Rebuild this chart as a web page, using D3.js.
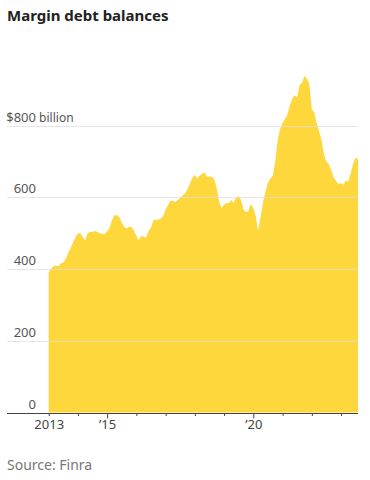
<!DOCTYPE html>
<html>
<head>
<meta charset="utf-8">
<script src="https://cdn.jsdelivr.net/npm/d3@7"></script>
<style>
  body { margin: 0; background: #fff; }
  svg { display: block; }
  text { font-family: "Noto Sans", sans-serif; }
</style>
</head>
<body>
<svg id="chart"></svg>
<script>
// monthly margin debt, billions of dollars, from Jan 2013
var startMonth = "2013-01";
var debtValues = [
  392, 401, 408, 410, 408, 415, 418, 428, 445, 458, 474, 488,
  500, 500, 490, 480, 500, 503, 503, 506, 504, 499, 499, 497,
  505, 515, 535, 550, 550, 545, 530, 518, 513, 518, 517, 507,
  492, 480, 493, 490, 488, 506, 515, 535, 538, 537, 541, 548,
  565, 580, 590, 590, 587, 592, 598, 605, 611, 622, 638, 655,
  662, 652, 660, 665, 670, 657, 657, 657, 650, 625, 587, 570,
  580, 584, 584, 592, 584, 601, 603, 592, 566, 558, 562, 582,
  570, 548, 506, 545, 585, 615, 640, 652, 660, 700, 760, 790,
  808, 818, 830, 855, 875, 884, 878, 912, 920, 938, 930, 916,
  845, 836, 808, 785, 760, 720, 700, 693, 675, 655, 645, 636,
  640, 635, 647, 643, 666, 693, 711, 705
];
var yTicks = [0, 200, 400, 600, 800];
var tickYears = [2013, 2014, 2015, 2016, 2017, 2018, 2019, 2020, 2021, 2022, 2023];
var yearLabels = { 2013: "2013", 2015: "\u201915", 2020: "\u201920" };
var titleText = "Margin debt balances";
var sourceText = "Source: Finra";

var width = 370, height = 480;
var svg = d3.select("#chart").attr("width", width).attr("height", height);

var parseMonth = d3.timeParse("%Y-%m");
var start = parseMonth(startMonth);
var data = debtValues.map(function(v, i) {
  return { date: d3.timeMonth.offset(start, i), value: v };
});

var x = d3.scaleTime()
    .domain([start, data[data.length - 1].date])
    .range([48.7, 358]);

var y = d3.scaleLinear()
    .domain([0, 800])
    .range([412.5, 125.5]);

// title
svg.append("text")
    .attr("x", 7)
    .attr("y", 21)
    .style("font-size", "15px")
    .style("font-weight", "bold")
    .style("fill", "#222")
    .text(titleText);

// area
var area = d3.area()
    .x(function(d) { return x(d.date); })
    .y0(y(0))
    .y1(function(d) { return y(d.value); });

svg.append("path")
    .datum(data)
    .attr("d", area)
    .style("fill", "#fdd73b");

// gridlines over the area
var grid = svg.append("g");
grid.selectAll("line")
    .data(yTicks.filter(function(d) { return d > 0; }))
  .enter().append("line")
    .attr("x1", 7)
    .attr("x2", 358)
    .attr("y1", function(d) { return Math.round(y(d)) + 0.5; })
    .attr("y2", function(d) { return Math.round(y(d)) + 0.5; })
    .style("stroke", "#dedede")
    .style("stroke-opacity", 0.75)
    .style("stroke-width", 1.2);

// y labels, right-aligned on the numbers
var labels = svg.append("g");
labels.selectAll("text.num")
    .data(yTicks)
  .enter().append("text")
    .attr("class", "num")
    .attr("x", 36)
    .attr("y", function(d) { return y(d) - 4; })
    .attr("text-anchor", "end")
    .style("font-size", "13px")
    .style("fill", "#555")
    .text(function(d) { return d === 800 ? "$800" : d; });

labels.append("text")
    .attr("x", 36)
    .attr("y", y(800) - 4)
    .attr("xml:space", "preserve")
    .style("font-size", "12px")
    .style("fill", "#555")
    .text(" billion");

// x axis
var xAxis = d3.axisBottom(x)
    .tickValues(tickYears.map(function(yr) { return new Date(yr, 0, 1); }))
    .tickSize(0)
    .tickFormat(function(d) { return yearLabels[d.getFullYear()] || ""; });

var gx = svg.append("g")
    .attr("transform", "translate(0," + (Math.round(y(0)) + 0.5) + ")")
    .call(xAxis);

gx.select(".domain").remove();
gx.append("line")
    .attr("x1", 7)
    .attr("x2", 358)
    .style("stroke", "#444");

gx.selectAll(".tick line")
    .attr("y2", function(d) { return yearLabels[d.getFullYear()] && d.getFullYear() !== 2013 ? 5 : 2.5; })
    .style("stroke", "#444");

gx.selectAll(".tick text")
    .attr("y", 15)
    .attr("dy", 0)
    .style("font-family", "Noto Sans, sans-serif")
    .style("font-size", "13px")
    .style("fill", "#444");

// source
svg.append("text")
    .attr("x", 7)
    .attr("y", 470)
    .style("font-size", "14px")
    .style("fill", "#777")
    .text(sourceText);
</script>
</body>
</html>
